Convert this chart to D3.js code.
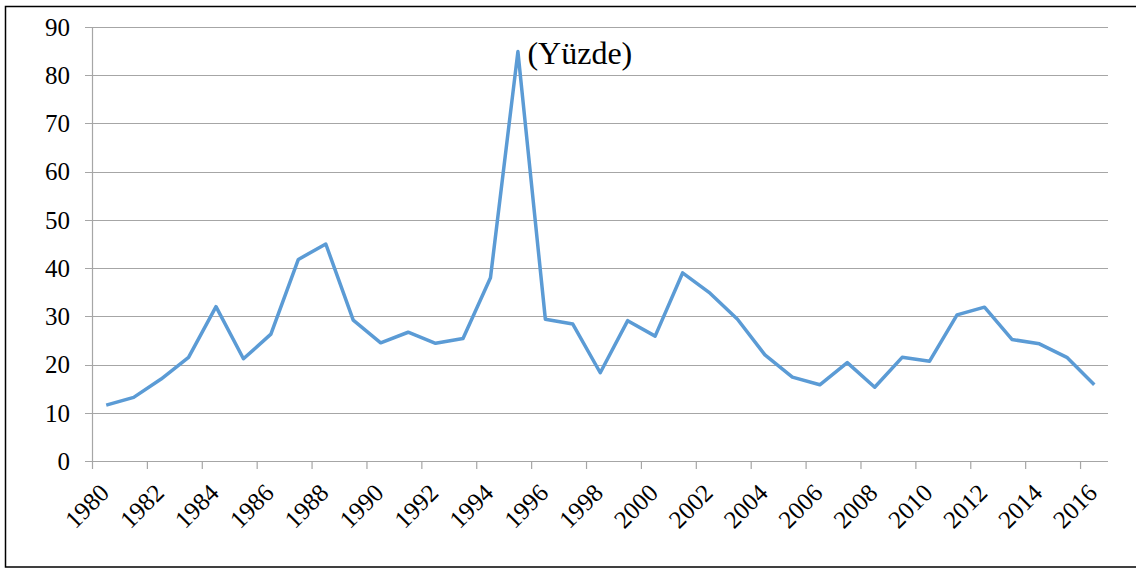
<!DOCTYPE html>
<html>
<head>
<meta charset="utf-8">
<script src="https://cdn.jsdelivr.net/npm/d3@7"></script>
<style>
  body { margin: 0; background: #fff; }
  svg { display: block; }
</style>
</head>
<body>
<svg id="chart" width="1136" height="570"></svg>
<script>
// data
var years = d3.range(1980, 2017).map(String);
var values = [11.6, 13.2, 17.0, 21.5, 32.0, 21.2, 26.3, 41.8, 45.0, 29.2,
              24.5, 26.7, 24.4, 25.4, 38.0, 84.9, 29.4, 28.4, 18.3, 29.1,
              25.9, 39.0, 34.8, 29.4, 22.0, 17.4, 15.8, 20.4, 15.3, 21.5,
              20.7, 30.3, 31.9, 25.2, 24.3, 21.5, 15.8];
var yTicks = [0, 10, 20, 30, 40, 50, 60, 70, 80, 90];
var seriesLabel = "(Yüzde)";

var svg = d3.select("#chart");
var font = "'Liberation Serif', 'Times New Roman', serif";
var gridColor = "#a6a6a6";

// outer frame
svg.append("rect")
    .attr("x", 5.5).attr("y", 6.5)
    .attr("width", 1140).attr("height", 560.5)
    .attr("fill", "none")
    .attr("stroke", "#000")
    .attr("stroke-width", 1.5);

var plotLeft = 92.5, plotRight = 1108, plotTop = 27, plotBottom = 461;

var x = d3.scaleBand().domain(years).range([plotLeft, plotRight]).padding(0);
var y = d3.scaleLinear().domain([0, 90]).range([plotBottom, plotTop]);

// horizontal gridlines with small stubs left of the axis
svg.append("g").selectAll("line")
    .data(yTicks)
    .join("line")
    .attr("x1", plotLeft - 7.5).attr("x2", plotRight)
    .attr("y1", function(d) { return Math.round(y(d)) + 0.5; })
    .attr("y2", function(d) { return Math.round(y(d)) + 0.5; })
    .attr("stroke", gridColor)
    .attr("stroke-width", 1.2);

// y axis line
svg.append("line")
    .attr("x1", plotLeft).attr("x2", plotLeft)
    .attr("y1", plotTop).attr("y2", plotBottom)
    .attr("stroke", gridColor)
    .attr("stroke-width", 1.2);

// y labels
svg.append("g").selectAll("text")
    .data(yTicks)
    .join("text")
    .attr("x", 70)
    .attr("y", function(d) { return y(d); })
    .attr("dy", "0.35em")
    .attr("text-anchor", "end")
    .attr("font-family", font)
    .attr("font-size", 25)
    .attr("fill", "#000")
    .text(function(d) { return d; });

// x ticks every 2 categories, on category boundaries
var tickYears = years.filter(function(d, i) { return i % 2 === 0; });
svg.append("g").selectAll("line")
    .data(tickYears)
    .join("line")
    .attr("x1", function(d) { return x(d); })
    .attr("x2", function(d) { return x(d); })
    .attr("y1", plotBottom).attr("y2", plotBottom + 8)
    .attr("stroke", gridColor)
    .attr("stroke-width", 1.2);

// x labels, rotated, ending near the category centre
svg.append("g").selectAll("text")
    .data(tickYears)
    .join("text")
    .attr("transform", function(d) {
        return "translate(" + (x(d) + x.bandwidth() / 2 - 8) + "," + (plotBottom + 21) + ") rotate(-45)";
    })
    .attr("text-anchor", "end")
    .attr("dy", "0.7em")
    .attr("font-family", font)
    .attr("font-size", 25)
    .attr("fill", "#000")
    .text(function(d) { return d; });

// the series
var line = d3.line()
    .x(function(d, i) { return x(years[i]) + x.bandwidth() / 2; })
    .y(function(d) { return y(d); });

svg.append("path")
    .datum(values)
    .attr("d", line)
    .attr("fill", "none")
    .attr("stroke", "#5b9bd5")
    .attr("stroke-width", 3.5)
    .attr("stroke-linejoin", "round");

// label beside the peak
var peak = d3.maxIndex(values);
svg.append("text")
    .attr("x", x(years[peak]) + x.bandwidth() / 2 + 9.5)
    .attr("y", y(values[peak]) + 12)
    .attr("font-family", font)
    .attr("font-size", 32)
    .attr("fill", "#000")
    .text(seriesLabel);
</script>
</body>
</html>
